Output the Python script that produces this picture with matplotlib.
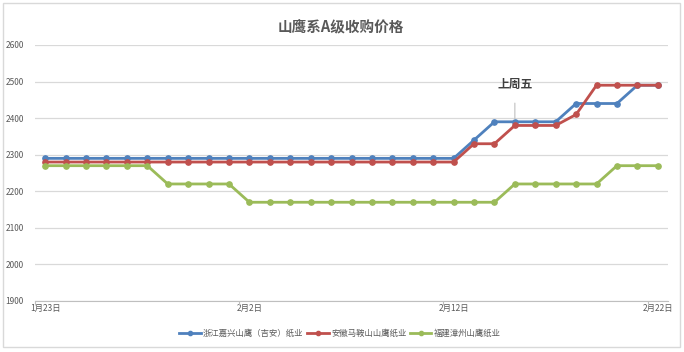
import datetime as dt
import matplotlib
matplotlib.use('Agg')
import matplotlib.pyplot as plt
import matplotlib.dates as mdates
from matplotlib.patches import Rectangle

plt.rcParams['font.family'] = ['Noto Sans CJK SC', 'DejaVu Sans']

# 数据（1月23日 ~ 2月22日，每日一个点）
start = dt.datetime(2019, 1, 23)
dates = [start + dt.timedelta(days=i) for i in range(31)]

names = ['浙江嘉兴山鹰（吉安）纸业', '安徽马鞍山山鹰纸业', '福建漳州山鹰纸业']
jiaxing = [2290, 2290, 2290, 2290, 2290, 2290, 2290, 2290, 2290, 2290,
           2290, 2290, 2290, 2290, 2290, 2290, 2290, 2290, 2290, 2290,
           2290, 2340, 2390, 2390, 2390, 2390, 2440, 2440, 2440, 2490, 2490]
maanshan = [2280, 2280, 2280, 2280, 2280, 2280, 2280, 2280, 2280, 2280,
            2280, 2280, 2280, 2280, 2280, 2280, 2280, 2280, 2280, 2280,
            2280, 2330, 2330, 2380, 2380, 2380, 2410, 2490, 2490, 2490, 2490]
zhangzhou = [2270, 2270, 2270, 2270, 2270, 2270, 2220, 2220, 2220, 2220,
             2170, 2170, 2170, 2170, 2170, 2170, 2170, 2170, 2170, 2170,
             2170, 2170, 2170, 2220, 2220, 2220, 2220, 2220, 2270, 2270, 2270]
colors = ['#4F81BD', '#C0504D', '#9BBB59']

label_dates = [dt.datetime(2019, 1, 23), dt.datetime(2019, 2, 2),
               dt.datetime(2019, 2, 12), dt.datetime(2019, 2, 22)]
note_date = dt.datetime(2019, 2, 15)
note_value = 2390

fig = plt.figure(figsize=(6.84, 3.52), dpi=100)
ax = fig.add_axes([35/684, 1-301/352, 633/684, 256/352])

# 外框
fig.patches.append(Rectangle((3/684, 5/352), 677/684, 344/352, transform=fig.transFigure,
                             fill=False, edgecolor='#D9D9D9', lw=1))

for vals, c, n in zip([jiaxing, maanshan, zhangzhou], colors, names):
    ax.plot(dates, vals, color=c, lw=2.0, marker='o', ms=3.8, label=n, zorder=3)

half = dt.timedelta(hours=12)
ax.set_xlim(dates[0] - half, dates[-1] + half)
ax.set_ylim(1900, 2600)
ax.set_yticks(range(1900, 2601, 100))
ax.grid(axis='y', color='#D9D9D9', lw=0.9)
ax.set_axisbelow(True)

ax.set_xticks(label_dates)
ax.xaxis.set_major_formatter(mdates.DateFormatter('%-m月%-d日'))
ax.set_xticks([d - half for d in label_dates], minor=True)
ax.tick_params(axis='x', which='major', length=0, pad=2, labelsize=6, labelcolor='#595959')
ax.tick_params(axis='x', which='minor', length=3, color='#BFBFBF', width=0.8)
ax.tick_params(axis='y', length=0, pad=8, labelsize=6, labelcolor='#595959')

for s in ['top', 'right', 'left']:
    ax.spines[s].set_visible(False)
ax.spines['bottom'].set_color('#BFBFBF')
ax.spines['bottom'].set_linewidth(0.8)

ax.annotate('上周五', xy=(note_date, note_value), xytext=(note_date, 2493),
            ha='center', va='center', fontsize=8.5, fontweight='bold', color='#404040',
            arrowprops=dict(arrowstyle='-', color='#BFBFBF', lw=0.8, shrinkA=7, shrinkB=2))

fig.text(0.498, 1-27/352, '山鹰系A级收购价格', ha='center', va='center',
         fontsize=10.5, fontweight='bold', color='#595959')

fig.legend(loc='center', bbox_to_anchor=(0.497, 1-333/352), ncol=3, frameon=False,
           fontsize=6, handlelength=2.6, columnspacing=0.4, handletextpad=0.3,
           labelcolor='#595959', markerscale=0.8)

fig.savefig('out.png', dpi=100)
